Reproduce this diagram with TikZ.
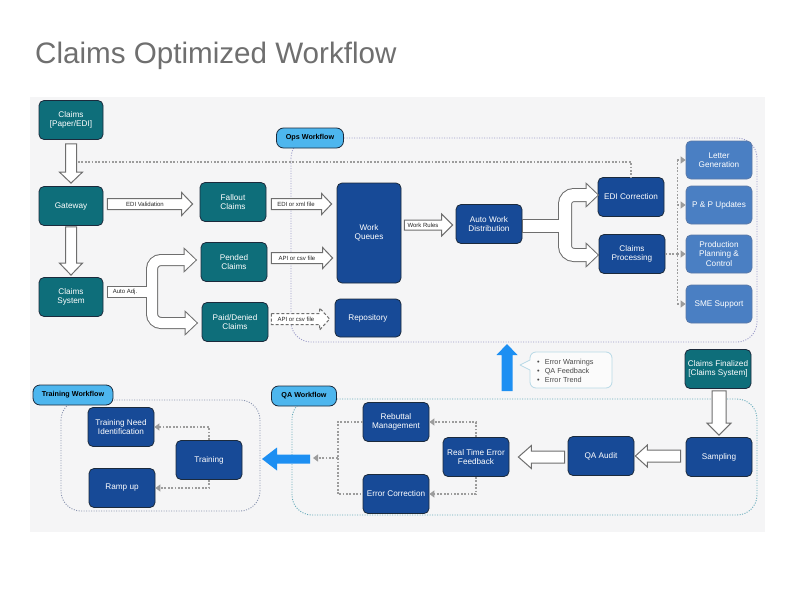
\documentclass[tikz,border=0pt]{standalone}
\usepackage{fontspec}
\setmainfont{Liberation Sans}
\usetikzlibrary{calc,arrows.meta}
\definecolor{cTeal}{HTML}{0E6E7A}
\definecolor{cDark}{HTML}{174A97}
\definecolor{cLight}{HTML}{4A7FC3}
\definecolor{cLightB}{HTML}{5A79A8}
\definecolor{cBorder}{HTML}{1B2A3C}
\definecolor{cTag}{HTML}{4DB6EE}
\definecolor{cArr}{HTML}{6E6E6E}
\definecolor{cDot}{HTML}{9C9C9C}
\definecolor{cOps}{HTML}{9A9AC8}
\definecolor{cQA}{HTML}{62A9B8}
\definecolor{cTrn}{HTML}{8792AE}
\definecolor{cBlue}{HTML}{1D8FF2}
\definecolor{cPanel}{HTML}{F5F5F6}
\definecolor{cTitle}{HTML}{6F6F6F}
\definecolor{cCall}{HTML}{B7D9E6}
\definecolor{cTxt}{HTML}{4A4A4A}

\tikzset{
 box/.style={rounded corners=5pt, draw=cBorder, line width=0.8pt, text=white,
   font=\fontsize{8.2}{9.5}\selectfont, align=center, minimum width=66pt,
   minimum height=39pt, inner sep=1pt},
 tealbox/.style={box, fill=cTeal},
 bluebox/.style={box, fill=cDark},
 litebox/.style={box, fill=cLight, draw=cLightB, minimum height=38pt},
 tag/.style={rounded corners=7pt, draw=cBorder, line width=0.8pt, fill=cTag,
   font=\bfseries\fontsize{7.2}{8.5}\selectfont, minimum height=20pt, inner xsep=3pt},
 hollow/.style={draw=cArr, fill=white, line width=1pt, line join=miter},
 bluearrow/.style={fill=cBlue, draw=none},
 lbl/.style={font=\fontsize{6}{7}\selectfont, text=black!85, inner sep=0pt},
 dots/.style={draw=cDot, line width=1.8pt, dash pattern=on 1.8pt off 1.6pt},
 dotarrow/.style={dots, -{Triangle[length=5pt,width=7pt]}},
 region/.style={rounded corners=20pt, line width=0.9pt, dash pattern=on 1pt off 1.5pt},
}

% straight hollow block arrows: [opt]{tail}{tip}{half shaft}{half head}{head length}
\newcommand\arrR[6][]{\draw[hollow,#1] let \p1=(#2), \p2=(#3) in
  (\x1,\y2+#4pt) -- (\x2-#6pt,\y2+#4pt) -- (\x2-#6pt,\y2+#5pt) -- (\x2,\y2)
  -- (\x2-#6pt,\y2-#5pt) -- (\x2-#6pt,\y2-#4pt) -- (\x1,\y2-#4pt) -- cycle;}
\newcommand\arrL[6][]{\draw[hollow,#1] let \p1=(#2), \p2=(#3) in
  (\x1,\y2+#4pt) -- (\x2+#6pt,\y2+#4pt) -- (\x2+#6pt,\y2+#5pt) -- (\x2,\y2)
  -- (\x2+#6pt,\y2-#5pt) -- (\x2+#6pt,\y2-#4pt) -- (\x1,\y2-#4pt) -- cycle;}
\newcommand\arrD[6][]{\draw[hollow,#1] let \p1=(#2), \p2=(#3) in
  (\x2-#4pt,\y1) -- (\x2-#4pt,\y2+#6pt) -- (\x2-#5pt,\y2+#6pt) -- (\x2,\y2)
  -- (\x2+#5pt,\y2+#6pt) -- (\x2+#4pt,\y2+#6pt) -- (\x2+#4pt,\y1) -- cycle;}
\newcommand\arrU[6][]{\draw[hollow,#1] let \p1=(#2), \p2=(#3) in
  (\x2-#4pt,\y1) -- (\x2-#4pt,\y2-#6pt) -- (\x2-#5pt,\y2-#6pt) -- (\x2,\y2)
  -- (\x2+#5pt,\y2-#6pt) -- (\x2+#4pt,\y2-#6pt) -- (\x2+#4pt,\y1) -- cycle;}
% forked hollow arrow: {tail}{vertical x coord}{upper tip}{lower tip}{outer width}{inner width}
\newcommand\forkarrow[6]{%
 \draw[cArr, line width=#5pt] (#1) -- (#1 -| #2);
 \draw[cArr, line width=#5pt, rounded corners=9pt] ($(#3)+(-11,0)$) -- (#3 -| #2) -- (#4 -| #2) -- ($(#4)+(-11,0)$);
 \foreach \t in {#3,#4} \draw[cArr, line width=2pt, line join=miter] (\t) -- ($(\t)+(-11,-10.5)$) -- ($(\t)+(-11,10.5)$) -- cycle;
 \draw[white, line width=#6pt] ($(#1)+(1,0)$) -- (#1 -| #2);
 \draw[white, line width=#6pt, rounded corners=9pt] ($(#3)+(-9,0)$) -- (#3 -| #2) -- (#4 -| #2) -- ($(#4)+(-9,0)$);
 \foreach \t in {#3,#4} \fill[white] (\t) -- ($(\t)+(-11,-10.5)$) -- ($(\t)+(-11,10.5)$) -- cycle;
}

\begin{document}
\begin{tikzpicture}[x=1pt,y=-1pt]
\useasboundingbox (0,0) rectangle (796,600);
\fill[white] (0,0) rectangle (796,600);
\fill[cPanel] (30,97) rectangle (765,532);

\node[anchor=base west, font=\fontsize{29.6}{34}\selectfont, text=cTitle, inner sep=0pt] (title) at (35,63) {Claims Optimized Workflow};

% workflow regions
\draw[region, draw=cOps] (291,138) rectangle (757,342);
\draw[region, draw=cQA] (292,399) rectangle (757,515);
\draw[region, draw=cTrn] (61,400) rectangle (260,511);

% nodes
\node[tealbox, minimum width=64pt] (cl) at (71,120) {Claims\\{[}Paper/EDI{]}};
\node[tealbox, minimum width=64pt] (gw) at (71,206) {Gateway};
\node[tealbox, minimum width=64pt] (cs) at (71,297) {Claims\\System};
\node[tealbox] (fo) at (233,202) {Fallout\\Claims};
\node[tealbox] (pe) at (234,262) {Pended\\Claims};
\node[tealbox] (pd) at (235,322) {Paid/Denied\\Claims};
\node[bluebox, minimum width=64pt, minimum height=100pt] (wq) at (369,233) {Work\\Queues};
\node[bluebox, minimum height=38pt] (rp) at (368,318) {Repository};
\node[bluebox] (aw) at (489,224) {Auto Work\\Distribution};
\node[bluebox] (ec) at (631,197) {EDI Correction};
\node[bluebox] (cp) at (632,254) {Claims\\Processing};
\node[litebox] (lg) at (719,160) {Letter\\Generation};
\node[litebox] (pp) at (719,205) {P \& P Updates};
\node[litebox] (ppc) at (719,254) {Production\\Planning \&\\Control};
\node[litebox] (sme) at (719,304) {SME Support};
\node[tealbox] (cf) at (718,369) {Claims Finalized\\{[}Claims System{]}};
\node[bluebox] (sa) at (719,457) {Sampling};
\node[bluebox] (qa) at (601,456) {QA Audit};
\node[bluebox] (rt) at (476,457) {Real Time Error\\Feedback};
\node[bluebox] (rb) at (396,422) {Rebuttal\\Management};
\node[bluebox] (ecr) at (396,494) {Error Correction};
\node[bluebox] (tni) at (121,427) {Training Need\\Identification};
\node[bluebox] (trn) at (209,460) {Training};
\node[bluebox] (ru) at (122,488) {Ramp up};

% tags
\node[tag, minimum width=67pt] (opsT) at (310,138) {Ops Workflow};
\node[tag, minimum width=65pt] (qaT) at (304,396) {QA Workflow};
\node[tag, minimum width=80pt] (trT) at (73,395) {Training Workflow};

% dotted connectors
\coordinate (gd) at (78,162);
\draw[dots] (gd) -| (ec.north);
\coordinate (cpx) at ($(cp.east)+(12,0)$);
\draw[dots] (cp.east) -- (cpx);
\draw[dots] (lg.west -| cpx) -- (sme.west -| cpx);
\foreach \b in {lg,pp,ppc,sme} \draw[dotarrow] (\b.west -| cpx) -- (\b.west);
\draw[dotarrow] (rt.north) |- (rb.east);
\draw[dotarrow] (rt.south) |- (ecr.east);
\draw[dots] (rb.west) -- ++(-25,0) coordinate (bk) |- (ecr.west);
\coordinate (qaL) at (313,458);
\draw[dotarrow] (bk |- qaL) -- (qaL);
\draw[dotarrow] (trn.north) |- (tni.east);
\draw[dotarrow] (trn.south) |- (ru.east);

% hollow block arrows
\arrD{$(cl.south)+(0,4)$}{$(gw.north)+(0,-3)$}{5.5}{11.5}{11}
\arrD{$(gw.south)+(0,1)$}{$(cs.north)+(0,-2)$}{5.5}{11.5}{12}
\arrR{$(gw.east)+(4,0)$}{$(fo.west)+(-7,2)$}{5.5}{11.5}{11}
\node[lbl] (lEV) at (145,204) {EDI Validation};
\arrR{$(fo.east)+(5,0)$}{$(fo.east -| wq.west)+(-5,2)$}{5.5}{10.5}{10}
\node[lbl] (lEX) at (296,204) {EDI or xml file};
\arrR{$(pe.east)+(4,0)$}{$(pe.east -| wq.west)+(-4,-4)$}{5.5}{10.5}{10}
\node[lbl] (lAC1) at (297,258) {API or csv file};
\arrR[dash pattern=on 3pt off 2pt]{$(pd.east)+(3,0)$}{$(pd.east -| rp.west)+(-5,-3)$}{5.5}{11}{10}
\node[lbl] (lAC2) at (296,319) {API or csv file};
\arrR{$(wq.east)+(3,0)$}{$(aw.west)+(-3,1)$}{5}{11}{11}
\node[lbl] (lWR) at (423,225) {Work Rules};
\arrD{$(cf.south)+(0,2)$}{$(sa.north)+(0,-2)$}{7}{12}{12}
\arrL{$(sa.west)+(-5,0)$}{$(qa.east)+(1,0)$}{6}{11}{12}
\arrL{$(qa.west)+(-3,0)$}{$(rt.east)+(9,0)$}{6}{11.5}{13}

% forked arrows
\coordinate (f1s) at ($(cs.east)+(4,-5)$);
\coordinate (f1v) at (152,292);
\coordinate (f1u) at ($(pe.west)+(-5,-2)$);
\coordinate (f1d) at ($(pd.west)+(-5,1)$);
\forkarrow{f1s}{f1v}{f1u}{f1d}{12}{10}
\node[lbl] (lAA) at (125,292) {Auto Adj.};
\coordinate (f2s) at ($(aw.east)+(0,2)$);
\coordinate (f2v) at (565,226);
\coordinate (f2u) at ($(ec.west)+(0,-2)$);
\coordinate (f2d) at ($(cp.west)+(-1,1)$);
\forkarrow{f2s}{f2v}{f2u}{f2d}{14}{12}

% blue arrows
\coordinate (bu1) at (507,391);
\coordinate (bu2) at (507,344);
\arrU[bluearrow]{bu1}{bu2}{5.5}{10.5}{11}
\coordinate (bl1) at (310,459);
\coordinate (bl2) at (262,459);
\arrL[bluearrow]{bl1}{bl2}{4.5}{11.5}{15}

% callout
\draw[cCall, fill=white!60!cPanel, line width=0.8pt, line join=round]
  (520,365) -- (530,360) [rounded corners=6pt] -- (530,352) -- (612,352) -- (612,388) -- (530,388) [sharp corners] -- (530,370) -- cycle;
\node[anchor=west, align=left, font=\fontsize{7.3}{9}\selectfont, text=cTxt, inner sep=0pt] (bul) at (537,371)
  {\textbullet\hspace{5pt}Error Warnings\\ \textbullet\hspace{5pt}QA Feedback\\ \textbullet\hspace{5pt}Error Trend};
\end{tikzpicture}
\end{document}
